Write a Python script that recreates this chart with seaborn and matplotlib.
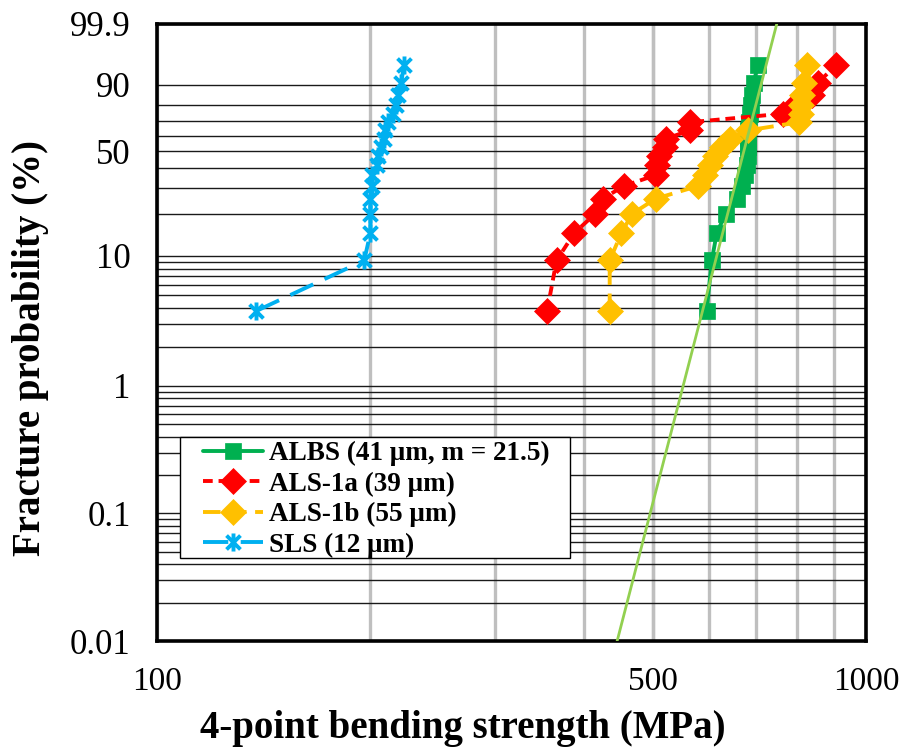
import numpy as np
import pandas as pd
import seaborn as sns
import matplotlib.pyplot as plt
from matplotlib.path import Path
from matplotlib.patches import Rectangle
from matplotlib.ticker import NullFormatter

# Cumulative fracture probability (%) of each ranked specimen (18 per material)
prob = [3.8, 9.2, 14.7, 20.1, 25.5, 31.0, 36.4, 41.8, 47.3,
        52.7, 58.2, 63.6, 69.0, 74.5, 79.9, 85.3, 90.8, 96.2]

# 4-point bending strength (MPa), ranked
albs = [596, 606, 616, 634, 657, 668, 674, 679, 681,
        681, 681, 681, 683, 685, 688, 690, 694, 704]
als_1a = [355, 366, 388, 415, 425, 456, 506, 508, 510,
          520, 523, 564, 564, 763, 793, 839, 855, 907]
als_1b = [435, 435, 452, 468, 505, 580, 592, 602, 612,
          626, 642, 681, 804, 809, 811, 813, 817, 826]
sls = [138, 196, 200, 200, 200, 201, 201, 204, 205,
       207, 209, 210, 212, 215, 217, 219, 221, 223]

labels = ["ALBS (41 \u03bcm, m = 21.5)", "ALS-1a (39 \u03bcm)",
          "ALS-1b (55 \u03bcm)", "SLS (12 \u03bcm)"]

# Weibull fit for ALBS
weibull_m = 21.5
weibull_s0 = 684.0
fit_strength = [430, 780]

prob_ticks = [0.01, 0.1, 1, 10, 50, 90, 99.9]
prob_tick_labels = ["0.01", "0.1", "1", "10", "50", "90", "99.9"]
x_ticks = [100, 500, 1000]
x_minor = [200, 300, 400, 500, 600, 700, 800, 900]


def weibull_y(p_pct):
    p = np.asarray(p_pct, dtype=float) / 100.0
    return np.log(-np.log(1.0 - p))


sns.set_theme(style="white")
plt.rcParams["font.family"] = ["Liberation Serif", "DejaVu Serif"]
plt.rcParams["axes.unicode_minus"] = False

W, H = 914, 747
fig = plt.figure(figsize=(W / 100, H / 100), dpi=100)
ax = fig.add_axes([157 / W, 1 - 641 / H, (866 - 157) / W, (641 - 24) / H])

star = Path([(-1, -1), (1, 1), (-1, 1), (1, -1), (0, -1.3), (0, 1.3)],
            [Path.MOVETO, Path.LINETO, Path.MOVETO, Path.LINETO,
             Path.MOVETO, Path.LINETO])

series = [
    (albs, labels[0], "#00B050", "-", "s", 12),
    (als_1a, labels[1], "#FF0000", (0, (2.5, 1.5)), "D", 13),
    (als_1b, labels[2], "#FFC000", (0, (4.5, 2.2)), "D", 13),
    (sls, labels[3], "#00B0F0", (0, (6.5, 3.2)), star, 13),
]

wy = weibull_y(prob)
for vals, name, color, ls, marker, ms in series:
    sub = pd.DataFrame({"strength": vals, "wy": wy})
    filled = not isinstance(marker, Path)
    sns.lineplot(data=sub, x="strength", y="wy", ax=ax, sort=False,
                 estimator=None, color=color, linestyle=ls, lw=2.8,
                 marker=marker, markersize=ms,
                 markeredgecolor=color,
                 markerfacecolor=color if filled else "none",
                 markeredgewidth=2.8 if not filled else 0.5,
                 label=name, zorder=3)

# Weibull fit line
fit_df = pd.DataFrame({"strength": fit_strength})
fit_df["wy"] = weibull_m * (np.log(fit_df["strength"]) - np.log(weibull_s0))
sns.lineplot(data=fit_df, x="strength", y="wy", ax=ax, sort=False,
             estimator=None, color="#92D050", lw=2.0, legend=False, zorder=4)

# Axes
ax.set_xscale("log")
ax.set_xlim(100, 1000)
ax.set_xticks(x_ticks)
ax.set_xticklabels([str(t) for t in x_ticks])
ax.set_xticks(x_minor, minor=True)
ax.xaxis.set_minor_formatter(NullFormatter())
ax.xaxis.remove_overlapping_locs = False

ax.set_ylim(weibull_y(0.01), weibull_y(99.9))
ax.set_yticks(weibull_y(prob_ticks))
ax.set_yticklabels(prob_tick_labels)
grid_p = [k * 10.0 ** e for e in (-2, -1, 0, 1) for k in range(1, 10)]
ax.set_yticks(weibull_y(grid_p), minor=True)
ax.yaxis.set_minor_formatter(NullFormatter())

ax.set_axisbelow(True)
ax.grid(True, which="both", axis="x", color="#BFBFBF", lw=2.4)
ax.grid(True, which="both", axis="y", color="#1a1a1a", lw=1.0)

ax.tick_params(axis="both", which="both", length=0)
ax.tick_params(axis="y", which="major", pad=19, labelsize=25, labelcolor="black")
ax.tick_params(axis="x", which="major", pad=18, labelsize=24, labelcolor="black")

for s in ax.spines.values():
    s.set_visible(True)
    s.set_color("black")
    s.set_linewidth(2.6)

ax.set_xlabel("4-point bending strength (MPa)", fontsize=28, fontweight="bold",
              color="black")
ax.set_ylabel("Fracture probability (%)", fontsize=28, fontweight="bold",
              color="black")
ax.xaxis.set_label_coords(0.432, -0.112)
ax.yaxis.set_label_coords(-0.152, 0.475)

# Legend box with a roomy frame
box = Rectangle((180 / W, 1 - 558 / H), (570 - 180) / W, (558 - 437) / H,
                transform=fig.transFigure, facecolor="white", edgecolor="black",
                lw=1.0, zorder=5)
ax.add_patch(box)
box.set_clip_on(False)

handles, labs = ax.get_legend_handles_labels()
leg = ax.legend(handles, labs, loc="upper left",
                bbox_to_anchor=((203 - 157) / 709, (641 - 441) / 617),
                borderaxespad=0, borderpad=0, frameon=False,
                prop={"weight": "bold", "size": 19.5},
                handlelength=2.2, handletextpad=0.22, labelspacing=0.2,
                numpoints=1)
leg.set_zorder(6)
for t in leg.get_texts():
    t.set_color("black")

fig.savefig("out.png", dpi=100)
